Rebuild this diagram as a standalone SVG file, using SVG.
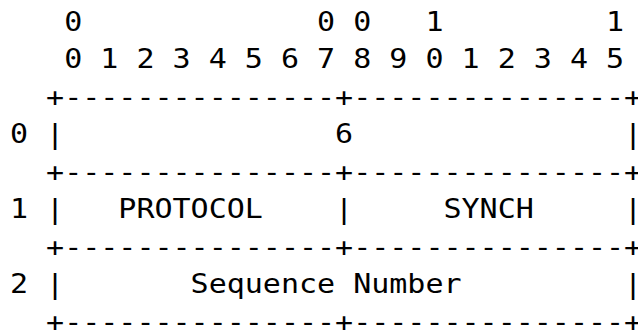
<svg xmlns="http://www.w3.org/2000/svg" width="638" height="330" viewBox="0 0 638 330">
<style>
text { font-family: "DejaVu Sans Mono", "Liberation Mono", monospace; font-size: 26.5px; fill: #000; white-space: pre; }
</style>
<rect x="0" y="0" width="638" height="330" fill="#fff"/>
<g transform="scale(1.1327,1)">
<g id="header">
<text x="8.83" y="31" xml:space="preserve">   0             0 0   1         1</text>
<text x="8.83" y="68.5" xml:space="preserve">   0 1 2 3 4 5 6 7 8 9 0 1 2 3 4 5</text>
</g>
<g id="borders">
<text x="8.83" y="106" xml:space="preserve">  +---------------+---------------+</text>
<text x="8.83" y="181" xml:space="preserve">  +---------------+---------------+</text>
<text x="8.83" y="256" xml:space="preserve">  +---------------+---------------+</text>
<text x="8.83" y="331" xml:space="preserve">  +---------------+---------------+</text>
</g>
<g id="row0">
<text x="8.83" y="143.5" xml:space="preserve">0 |               6               |</text>
</g>
<g id="row1">
<text x="8.83" y="218.5" xml:space="preserve">1 |   PROTOCOL    |     SYNCH     |</text>
</g>
<g id="row2">
<text x="8.83" y="293.5" xml:space="preserve">2 |       Sequence Number         |</text>
</g>
</g>
</svg>
